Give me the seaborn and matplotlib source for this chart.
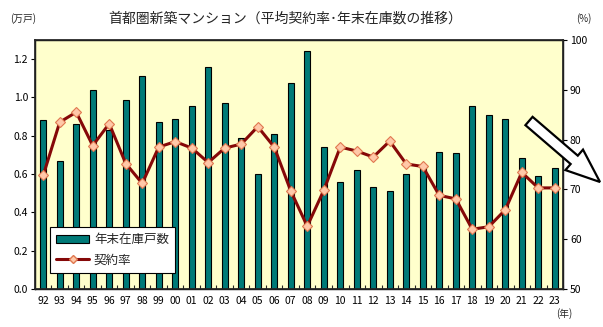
import numpy as np
import pandas as pd
import matplotlib
matplotlib.use("Agg")
import matplotlib.pyplot as plt
import seaborn as sns
from matplotlib.patches import Patch, FancyArrow
from matplotlib.lines import Line2D

years = ["92", "93", "94", "95", "96", "97", "98", "99", "00", "01", "02", "03", "04", "05", "06", "07",
         "08", "09", "10", "11", "12", "13", "14", "15", "16", "17", "18", "19", "20", "21", "22", "23"]
inventory = [0.88, 0.67, 0.86, 1.04, 0.83, 0.985, 1.11, 0.87, 0.89, 0.955, 1.16, 0.97, 0.79, 0.60, 0.81, 1.075,
             1.24, 0.74, 0.56, 0.62, 0.535, 0.51, 0.60, 0.64, 0.715, 0.71, 0.955, 0.91, 0.89, 0.685, 0.59, 0.63]
rate = [72.8, 83.5, 85.5, 78.8, 83.2, 75.2, 71.2, 78.5, 79.6, 78.3, 75.4, 78.3, 79.1, 82.6, 78.5, 69.7,
        62.6, 69.8, 78.5, 77.7, 76.5, 79.7, 75.1, 74.6, 68.8, 68.1, 62.0, 62.5, 65.9, 73.4, 70.3, 70.3]

title = "首都圏新築マンション（平均契約率･年末在庫数の推移）"
bar_label = "年末在庫戸数"
line_label = "契約率"

sns.set_theme(style="white")
plt.rcParams['font.family'] = ['Noto Sans CJK JP', 'DejaVu Sans']

df = pd.DataFrame({"year": years, "inventory": inventory, "rate": rate})

fig = plt.figure(figsize=(6.03, 3.27), dpi=100)
ax = fig.add_axes([0.058, 0.1162, 0.8757, 0.7615])
ax.set_facecolor("#FFFFCC")

bar_color = "#007A78"
sns.barplot(data=df, x="year", y="inventory", ax=ax, color=bar_color, width=0.38,
            edgecolor="black", linewidth=0.8, saturation=1)
ax.set_ylim(0, 1.3)
ax.set_xlim(-0.5, len(years) - 0.5)
ax.set_yticks(np.arange(0, 1.21, 0.2))
ax.set_yticklabels([f"{v:.1f}" for v in np.arange(0, 1.21, 0.2)])
ax.set_xlabel("")
ax.set_ylabel("")
for s in ax.spines.values():
    s.set_color("black")
    s.set_linewidth(1.0)
ax.tick_params(axis="y", direction="out", length=3, width=0.8, labelsize=7.5, pad=2, colors="black")
ax.tick_params(axis="x", length=0, labelsize=7.5, pad=5, colors="black")
ax.set_xticks(np.arange(len(years)) + 0.5, minor=True)
ax.tick_params(axis="x", which="minor", direction="in", length=3, width=0.8, bottom=True)

ax2 = ax.twinx()
sns.lineplot(x=np.arange(len(years)), y=df["rate"], ax=ax2, color="#850808", linewidth=2.2,
             marker="D", markersize=5.5, markerfacecolor="#FFC8A8", markeredgecolor="#E07850",
             markeredgewidth=0.8)
ax2.set_ylim(50, 100)
ax2.set_yticks(range(50, 101, 10))
ax2.set_ylabel("")
ax2.tick_params(axis="y", direction="out", length=3, width=0.8, labelsize=7.5, pad=2, colors="black")
ax2.grid(False)
ax.grid(False)

handles = [Patch(facecolor=bar_color, edgecolor="black", linewidth=0.8),
           Line2D([0], [0], color="#850808", linewidth=2.2, marker="D", markersize=4.5,
                  markerfacecolor="#FFC8A8", markeredgecolor="#E07850")]
leg = ax.legend(handles, [bar_label, line_label], loc="lower left", bbox_to_anchor=(0.017, 0.04),
                fontsize=9, frameon=True, fancybox=False, handlelength=2.6, handleheight=0.6,
                borderpad=0.5, labelspacing=0.6, handletextpad=0.4)
leg.get_frame().set_edgecolor("black")
leg.get_frame().set_linewidth(0.8)
leg.get_frame().set_facecolor("white")
leg.get_frame().set_alpha(1)
leg.set_zorder(10)

fig.text(0.473, 0.944, title, ha="center", va="center", fontsize=10)
fig.text(0.017, 0.944, "(万戸)", ha="left", va="center", fontsize=7)
fig.text(0.955, 0.944, "(%)", ha="left", va="center", fontsize=7)
fig.text(0.922, 0.042, "(年)", ha="left", va="center", fontsize=7)

arrow = FancyArrow(5.29, 3.27 - 1.21, 0.71, -0.61, width=0.11, head_width=0.27, head_length=0.34,
                   length_includes_head=True, transform=fig.dpi_scale_trans, facecolor="white",
                   edgecolor="black", linewidth=1.6, zorder=20)
fig.add_artist(arrow)

fig.savefig("out.png", dpi=100)
